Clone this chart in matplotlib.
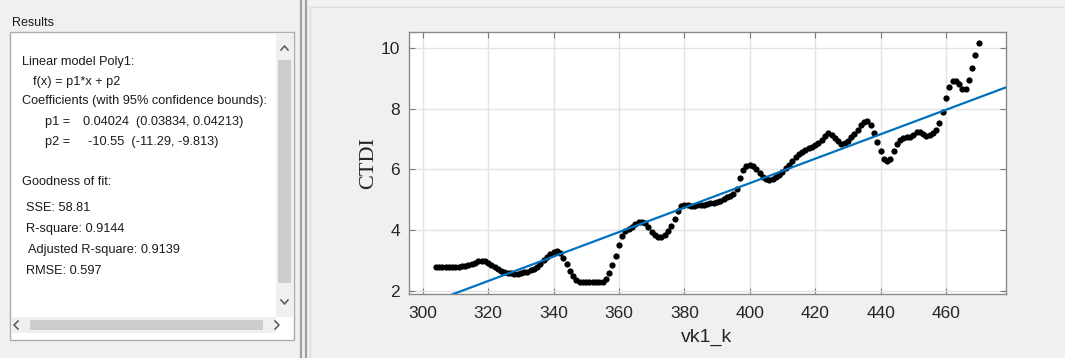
import matplotlib
matplotlib.use("Agg")
import matplotlib.pyplot as plt
from matplotlib.patches import Rectangle
import numpy as np

# ─── DATA ──────────────────────────────────────────────────────────────────────
vk1_k = [
    304, 305, 306, 307, 308, 309, 310, 311, 312, 313, 314, 315, 316, 317, 318, 319,
    320, 321, 322, 323, 324, 325, 326, 327, 328, 329, 330, 331, 332, 333, 334, 335,
    336, 337, 338, 339, 340, 341, 342, 343, 344, 345, 346, 347, 348, 349, 350, 351,
    352, 353, 354, 355, 356, 357, 358, 359, 360, 361, 362, 363, 364, 365, 366, 367,
    368, 369, 370, 371, 372, 373, 374, 375, 376, 377, 378, 379, 380, 381, 382, 383,
    384, 385, 386, 387, 388, 389, 390, 391, 392, 393, 394, 395, 396, 397, 398, 399,
    400, 401, 402, 403, 404, 405, 406, 407, 408, 409, 410, 411, 412, 413, 414, 415,
    416, 417, 418, 419, 420, 421, 422, 423, 424, 425, 426, 427, 428, 429, 430, 431,
    432, 433, 434, 435, 436, 437, 438, 439, 440, 441, 442, 443, 444, 445, 446, 447,
    448, 449, 450, 451, 452, 453, 454, 455, 456, 457, 458, 459, 460, 461, 462, 463,
    464, 465, 466, 467, 468, 469, 470,
]
ctdi = [
    2.78, 2.79, 2.79, 2.79, 2.78, 2.78, 2.79, 2.80, 2.81, 2.83, 2.86, 2.89, 2.93, 2.97, 2.99, 2.97,
    2.91, 2.85, 2.78, 2.72, 2.67, 2.62, 2.60, 2.58, 2.57, 2.57, 2.58, 2.61, 2.64, 2.68, 2.71, 2.78,
    2.90, 3.02, 3.12, 3.20, 3.27, 3.30, 3.24, 3.08, 2.90, 2.66, 2.48, 2.37, 2.31, 2.29, 2.28, 2.28,
    2.28, 2.28, 2.29, 2.31, 2.38, 2.58, 2.85, 3.15, 3.50, 3.82, 3.97, 4.05, 4.12, 4.20, 4.26, 4.28,
    4.22, 4.10, 3.95, 3.84, 3.78, 3.78, 3.85, 3.97, 4.15, 4.38, 4.62, 4.78, 4.83, 4.82, 4.80, 4.81,
    4.82, 4.83, 4.84, 4.86, 4.88, 4.90, 4.93, 4.97, 5.03, 5.08, 5.12, 5.18, 5.35, 5.70, 5.98, 6.10,
    6.14, 6.10, 6.00, 5.88, 5.76, 5.67, 5.64, 5.68, 5.74, 5.82, 5.93, 6.05, 6.15, 6.27, 6.40, 6.50,
    6.58, 6.65, 6.70, 6.75, 6.80, 6.88, 6.98, 7.10, 7.20, 7.14, 7.03, 6.92, 6.85, 6.86, 6.95, 7.05,
    7.18, 7.30, 7.45, 7.57, 7.58, 7.45, 7.20, 6.90, 6.60, 6.35, 6.26, 6.35, 6.60, 6.85, 6.97, 7.04,
    7.08, 7.06, 7.12, 7.22, 7.24, 7.16, 7.10, 7.12, 7.20, 7.30, 7.52, 7.90, 8.34, 8.70, 8.90, 8.92,
    8.80, 8.66, 8.66, 8.94, 9.33, 9.76, 10.15,
]
p1 = 0.04024
p2 = -10.55

x_ticks = [300, 320, 340, 360, 380, 400, 420, 440, 460]
y_ticks = [2, 4, 6, 8, 10]

model_title = "Linear model Poly1:"
model_formula = "f(x) = p1*x + p2"
coef_title = "Coefficients (with 95% confidence bounds):"
coef_names = ["p1 =", "p2 ="]
coef_values = ["0.04024  (0.03834, 0.04213)", "-10.55  (-11.29, -9.813)"]
gof_title = "Goodness of fit:"
gof_lines = ["SSE: 58.81", "R-square: 0.9144", "Adjusted R-square: 0.9139", "RMSE: 0.597"]
# ───────────────────────────────────────────────────────────────────────────────

W, H = 1065, 358
SANS = ["Liberation Sans", "DejaVu Sans"]
SERIF = ["Liberation Serif", "DejaVu Serif"]
BG = "#f0f0f0"
TXT = "#262626"

fig = plt.figure(figsize=(W / 100, H / 100), dpi=100, facecolor=BG)

# ── background / panel chrome, in pixel coords ──
bg = fig.add_axes([0, 0, 1, 1], zorder=0)
bg.set_xlim(0, W)
bg.set_ylim(H, 0)
bg.axis("off")

bg.text(12, 23, "Results", fontsize=9, family=SANS, color="#1a1a1a", va="center")
bg.add_patch(Rectangle((10, 32), 284, 308, facecolor="white", edgecolor="#adadad", lw=1))
# vertical scrollbar
bg.add_patch(Rectangle((276, 33), 17, 284, facecolor="#f0f0f0", edgecolor="none"))
bg.add_patch(Rectangle((278, 60), 13, 223, facecolor="#cdcdcd", edgecolor="none"))
bg.plot([281, 284.5, 288], [50, 46, 50], color="#606060", lw=1.2)
bg.plot([281, 284.5, 288], [300, 304, 300], color="#606060", lw=1.2)
# horizontal scrollbar
bg.add_patch(Rectangle((11, 317), 265, 16, facecolor="#f0f0f0", edgecolor="none"))
bg.add_patch(Rectangle((30, 320), 233, 10, facecolor="#cdcdcd", edgecolor="none"))
bg.plot([18, 14, 18], [321, 325, 329], color="#606060", lw=1.2)
bg.plot([275, 279, 275], [321, 325, 329], color="#606060", lw=1.2)

# results text
rkw = dict(fontsize=9.2, family=SANS, color="#1a1a1a", va="center")
bg.text(22, 62, model_title, **rkw)
bg.text(33, 82, model_formula, **rkw)
bg.text(22, 101, coef_title, **rkw)
for i, (name, val) in enumerate(zip(coef_names, coef_values)):
    y = 122 + 20 * i
    bg.text(45, y, name, **rkw)
    bg.text(83 + 5 * i, y, val, **rkw)
bg.text(22, 182, gof_title, **rkw)
for i, line in enumerate(gof_lines):
    bg.text(26 + (2 if i == 2 else 0), 208 + 21 * i, line, **rkw)

# panel divider
for xd in (300.5, 305.5):
    bg.plot([xd, xd], [0, H], color="#a0a0a0", lw=1.6)
bg.plot([310, 310], [7, H], color="#dcdcdc", lw=1)
bg.plot([310, W], [7, 7], color="#dcdcdc", lw=1)

# ── plot axes ──
ax_l, ax_r, ax_t, ax_b = 408.5, 1005.5, 32.3, 294.0
ax = fig.add_axes([ax_l / W, 1 - ax_b / H, (ax_r - ax_l) / W, (ax_b - ax_t) / H], zorder=1)
ax.set_facecolor("white")

xlim = (295.66, 478.2)
ylim = (1.90, 10.51)

ax.plot(vk1_k, ctdi, "o", color="black", markersize=4.5, markeredgewidth=0, zorder=3)
fit_x = np.array(xlim)
ax.plot(fit_x, p1 * fit_x + p2, color="#0072BD", lw=1.6, zorder=4)

ax.set_xlim(*xlim)
ax.set_ylim(*ylim)
ax.set_xticks(x_ticks)
ax.set_yticks(y_ticks)
ax.grid(True, color="#e3e3e3", lw=1, zorder=0)
ax.set_axisbelow(True)
ax.tick_params(direction="in", top=True, right=True, length=4, width=0.8,
               color="#7a7a7a", labelcolor=TXT, labelsize=12.5, pad=6)
ax.tick_params(axis="x", pad=9)
for lbl in ax.get_xticklabels() + ax.get_yticklabels():
    lbl.set_family(SANS)
for spine in ax.spines.values():
    spine.set_edgecolor("#8a8a8a")
    spine.set_linewidth(1)

ax.set_xlabel("vk1_k", fontsize=14, family=SANS, color=TXT, labelpad=5)
ax.set_ylabel("CTDI", fontsize=16, family=SERIF, color=TXT, labelpad=2)

fig.savefig("out.png", dpi=100, facecolor=BG)
